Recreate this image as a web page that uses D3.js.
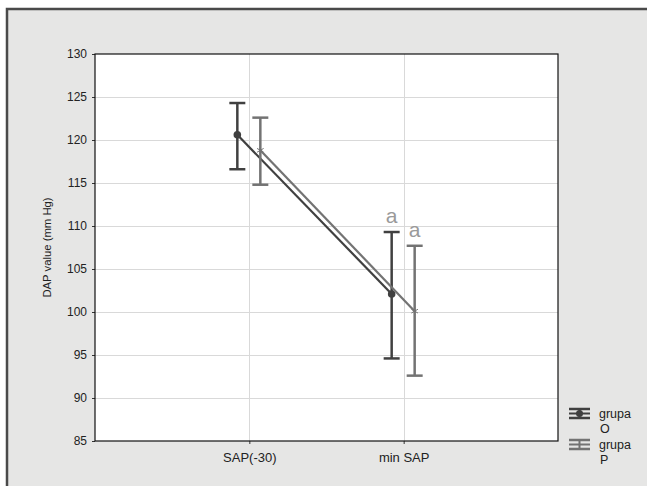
<!DOCTYPE html>
<html>
<head>
<meta charset="utf-8">
<script src="https://cdn.jsdelivr.net/npm/d3@7"></script>
<style>
  body { margin: 0; background: #fff; }
  svg text { font-family: "Liberation Sans", Arial, sans-serif; fill: #222; }
</style>
</head>
<body>
<div id="chart"></div>
<script>
  // categories and series (means with error-bar limits)
  var categories = ["SAP(-30)", "min SAP"];
  var groups = ["grupa O", "grupa P"];
  var meanO = [120.6, 102.1];
  var lowO = [116.6, 94.6];
  var highO = [124.3, 109.3];
  var meanP = [118.8, 100.1];
  var lowP = [114.8, 92.6];
  var highP = [122.6, 107.7];
  var yTicks = [85, 90, 95, 100, 105, 110, 115, 120, 125, 130];
  var marks = ["a", "a"];

  var W = 647, H = 486;
  var margin = { top: 54, right: 89, bottom: 45, left: 95 };
  var width = W - margin.left - margin.right;
  var height = H - margin.top - margin.bottom;

  var svg = d3.select("#chart").append("svg")
    .attr("width", W).attr("height", H);

  // outer panel
  svg.append("rect")
    .attr("x", 7).attr("y", 9).attr("width", W - 7).attr("height", H - 9)
    .style("fill", "#e6e6e5");
  svg.append("path")
    .attr("d", "M7," + H + "V9H" + W)
    .style("fill", "none").style("stroke", "#4a4a4a").style("stroke-width", 2.5);

  var g = svg.append("g")
    .attr("transform", "translate(" + margin.left + "," + margin.top + ")");

  g.append("rect").attr("width", width).attr("height", height).style("fill", "#fff");

  var x = d3.scalePoint().domain(categories).range([0, width]).padding(1);
  var y = d3.scaleLinear().domain([85, 130]).range([height, 0]);

  // grid
  g.selectAll(".hgrid").data(yTicks.slice(1, -1)).enter().append("line")
    .attr("x1", 0).attr("x2", width)
    .attr("y1", function(d) { return Math.round(y(d)) + 0.5; })
    .attr("y2", function(d) { return Math.round(y(d)) + 0.5; })
    .style("stroke", "#d9d9d9");
  g.selectAll(".vgrid").data(categories).enter().append("line")
    .attr("x1", function(d) { return Math.round(x(d)) + 0.5; })
    .attr("x2", function(d) { return Math.round(x(d)) + 0.5; })
    .attr("y1", 0).attr("y2", height)
    .style("stroke", "#d9d9d9");

  // axes
  var yAxis = g.append("g")
    .call(d3.axisLeft(y).tickValues(yTicks).tickSize(3).tickPadding(5));
  var xAxis = g.append("g").attr("transform", "translate(0," + height + ")")
    .call(d3.axisBottom(x).tickSize(3).tickPadding(9));
  [yAxis, xAxis].forEach(function(a) {
    a.select(".domain").remove();
    a.selectAll("line").style("stroke", "#333");
    a.selectAll("text").style("fill", "#222")
      .style("font-family", '"Liberation Sans", Arial, sans-serif');
  });
  yAxis.selectAll("text").style("font-size", "12px");
  xAxis.selectAll("text").style("font-size", "13px");

  g.append("rect").attr("width", width).attr("height", height)
    .style("fill", "none").style("stroke", "#111").style("stroke-width", 1.2);

  svg.append("text")
    .attr("transform", "translate(" + 51 + "," + (margin.top + height / 2) + ") rotate(-90)")
    .style("text-anchor", "middle").style("font-size", "11.3px")
    .text("DAP value (mm Hg)");

  var series = [
    { name: groups[0], mean: meanO, low: lowO, high: highO, color: "#404040", dx: -12, marker: "dot" },
    { name: groups[1], mean: meanP, low: lowP, high: highP, color: "#737373", dx: 11, marker: "star" }
  ];

  var line = d3.line()
    .x(function(d) { return d.x; })
    .y(function(d) { return d.y; });

  series.forEach(function(s) {
    var pts = categories.map(function(c, i) {
      return { x: x(c) + s.dx, y: y(s.mean[i]), lo: y(s.low[i]), hi: y(s.high[i]) };
    });
    var sg = g.append("g");
    sg.append("path").datum(pts).attr("d", line)
      .style("fill", "none").style("stroke", s.color).style("stroke-width", 2.2);
    var bars = sg.selectAll(".bar").data(pts).enter().append("g");
    bars.append("line")
      .attr("x1", function(d) { return d.x; }).attr("x2", function(d) { return d.x; })
      .attr("y1", function(d) { return d.hi; }).attr("y2", function(d) { return d.lo; })
      .style("stroke", s.color).style("stroke-width", 2.5);
    bars.append("line")
      .attr("x1", function(d) { return d.x - 8; }).attr("x2", function(d) { return d.x + 8; })
      .attr("y1", function(d) { return d.hi; }).attr("y2", function(d) { return d.hi; })
      .style("stroke", s.color).style("stroke-width", 2.5);
    bars.append("line")
      .attr("x1", function(d) { return d.x - 8; }).attr("x2", function(d) { return d.x + 8; })
      .attr("y1", function(d) { return d.lo; }).attr("y2", function(d) { return d.lo; })
      .style("stroke", s.color).style("stroke-width", 2.5);
    if (s.marker === "dot") {
      bars.append("circle").attr("cx", function(d) { return d.x; })
        .attr("cy", function(d) { return d.y; }).attr("r", 3.8).style("fill", s.color);
    } else {
      bars.append("path")
        .attr("transform", function(d) { return "translate(" + d.x + "," + d.y + ")"; })
        .attr("d", d3.symbol(d3.symbolAsterisk, 40))
        .style("fill", "none").style("stroke", s.color).style("stroke-width", 1);
    }
  });

  // significance marks above min SAP bars
  series.forEach(function(s, i) {
    g.append("text")
      .attr("x", x(categories[1]) + s.dx)
      .attr("y", y(s.high[1]) - 9)
      .style("text-anchor", "middle")
      .style("font-family", '"Liberation Sans Narrow", "Liberation Sans", sans-serif')
      .style("font-size", "21px").style("fill", "#9a9a9a")
      .text(marks[i]);
  });

  // legend
  var legend = svg.selectAll(".legend").data(series).enter().append("g")
    .attr("transform", function(d, i) { return "translate(569," + (409 + i * 31) + ")"; });
  legend.append("line").attr("x1", 0).attr("x2", 21).attr("y1", 0).attr("y2", 0)
    .style("stroke", function(d) { return d.color; }).style("stroke-width", 2.5);
  legend.append("line").attr("x1", 0).attr("x2", 21).attr("y1", 9).attr("y2", 9)
    .style("stroke", function(d) { return d.color; }).style("stroke-width", 2.5);
  legend.append("line").attr("x1", 0).attr("x2", 21).attr("y1", 4.5).attr("y2", 4.5)
    .style("stroke", function(d) { return d.color; }).style("stroke-width", 2);
  legend.append("line").attr("x1", 10.5).attr("x2", 10.5).attr("y1", 0).attr("y2", 9)
    .style("stroke", function(d) { return d.color; }).style("stroke-width", 2);
  legend.filter(function(d) { return d.marker === "dot"; }).append("circle")
    .attr("cx", 10.5).attr("cy", 4.5).attr("r", 3.5).style("fill", function(d) { return d.color; });
  legend.append("text").attr("x", 30).attr("y", 9).style("font-size", "12.5px")
    .text(function(d) { return d.name.split(" ")[0]; });
  legend.append("text").attr("x", 31).attr("y", 24).style("font-size", "12.5px")
    .text(function(d) { return d.name.split(" ")[1]; });
</script>
</body>
</html>
